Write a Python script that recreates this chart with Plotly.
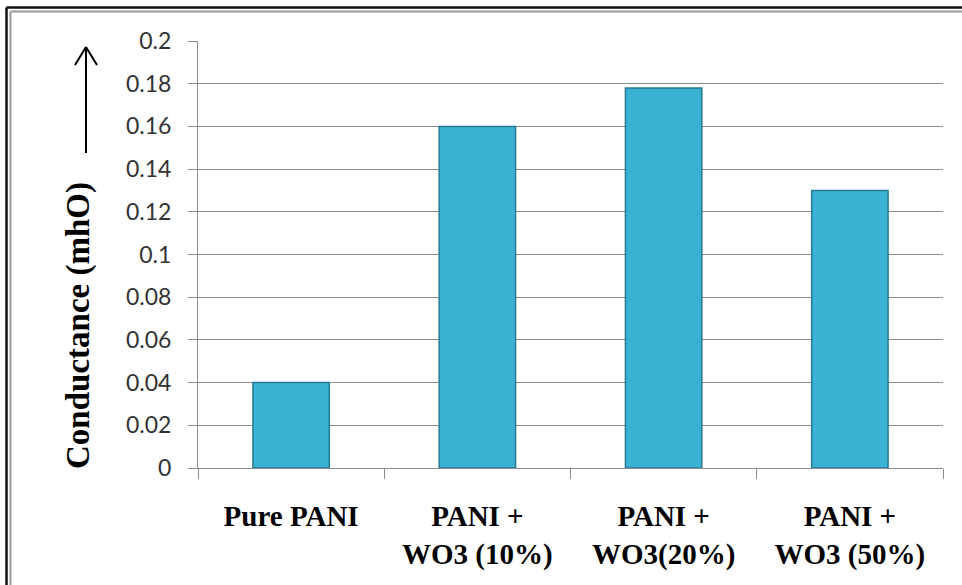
import plotly.graph_objects as go

categories = ["Pure PANI", "PANI +<br>WO3 (10%)", "PANI +<br>WO3(20%)", "PANI +<br>WO3 (50%)"]
conductance = [0.04, 0.16, 0.178, 0.13]
y_ticks = [0, 0.02, 0.04, 0.06, 0.08, 0.1, 0.12, 0.14, 0.16, 0.18, 0.2]
y_tick_text = ["0", "0.02", "0.04", "0.06", "0.08", "0.1", "0.12", "0.14", "0.16", "0.18", "0.2"]

W, H = 962, 585
L, R, T, B = 198, 943, 41, 468


def px(x):
    return (x - L) / (R - L)


def py(y):
    return (B - y) / (B - T)


fig = go.Figure()
fig.add_trace(go.Bar(
    x=categories, y=conductance,
    marker=dict(color="#3AB2D4", line=dict(color="#277A91", width=1.5)),
    width=0.41,
))

grid = "#8C8C8C"
fig.update_layout(
    width=W, height=H,
    margin=dict(l=L, r=W - R, t=T, b=H - B),
    paper_bgcolor="white", plot_bgcolor="white",
    showlegend=False,
    xaxis=dict(
        type="category", tickson="boundaries", ticks="outside", ticklen=10,
        tickcolor=grid, showline=True, linecolor=grid, linewidth=1,
        showgrid=False,
        tickvals=categories, ticktext=[f"<b>{c}</b>" for c in categories],
        tickfont=dict(family="Liberation Serif", size=29, color="black"),
        ticklabelstandoff=22,
    ),
    yaxis=dict(
        range=[0, 0.2], tickvals=y_ticks, ticktext=y_tick_text,
        ticks="outside", ticklen=9, tickcolor=grid,
        showline=True, linecolor=grid, linewidth=1,
        showgrid=True, gridcolor=grid, gridwidth=1, zeroline=False,
        tickfont=dict(family="Lato", size=23, color="#333333"),
        ticklabelstandoff=12,
    ),
    annotations=[
        dict(text="<b>Conductance (mhO)</b>", textangle=-90, showarrow=False,
             xref="paper", yref="paper", x=px(78), y=py(326),
             xanchor="center", yanchor="middle",
             font=dict(family="Liberation Serif", size=33, color="black")),
    ],
)

# y-axis title arrow
ax, ay0, ay1 = 86, 153, 47
shapes = [
    dict(type="line", xref="paper", yref="paper", x0=px(ax), y0=py(ay0), x1=px(ax), y1=py(ay1),
         line=dict(color="black", width=2)),
    dict(type="line", xref="paper", yref="paper", x0=px(ax - 11), y0=py(ay1 + 18), x1=px(ax), y1=py(ay1),
         line=dict(color="black", width=2)),
    dict(type="line", xref="paper", yref="paper", x0=px(ax + 11), y0=py(ay1 + 18), x1=px(ax), y1=py(ay1),
         line=dict(color="black", width=2)),
    # outer double border (top and left)
    dict(type="line", xref="paper", yref="paper", x0=px(6.5), y0=py(7.5), x1=px(W + 5), y1=py(7.5),
         line=dict(color="#111111", width=2.5)),
    dict(type="line", xref="paper", yref="paper", x0=px(6.5), y0=py(7.5), x1=px(6.5), y1=py(H + 5),
         line=dict(color="#111111", width=2.5)),
    dict(type="line", xref="paper", yref="paper", x0=px(10.5), y0=py(11.5), x1=px(W + 5), y1=py(11.5),
         line=dict(color="#9A9A9A", width=2)),
    dict(type="line", xref="paper", yref="paper", x0=px(10.5), y0=py(11.5), x1=px(10.5), y1=py(H + 5),
         line=dict(color="#9A9A9A", width=2)),
]
fig.update_layout(shapes=shapes)

fig.write_html("out.html", config={"displayModeBar": False},
               post_script="document.body.style.margin='0';document.body.style.overflow='hidden';")
